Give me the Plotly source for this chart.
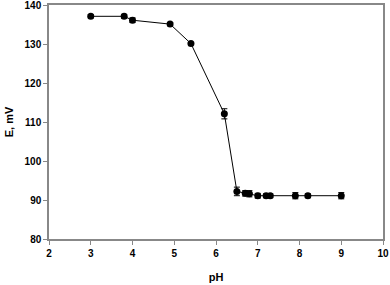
import plotly.graph_objects as go

ph = [3.0, 3.8, 4.0, 4.9, 5.4, 6.2, 6.5, 6.7, 6.8, 7.0, 7.2, 7.3, 7.9, 8.2, 9.0]
e_mv = [137.1, 137.1, 136.1, 135.1, 130.1, 112.1, 92.2, 91.7, 91.6, 91.1, 91.1, 91.1, 91.1, 91.1, 91.1]
err = [0.4, 0.5, 0.6, 0.4, 0.3, 1.3, 1.1, 0.7, 0.8, 0.6, 0.5, 0.5, 0.8, 0.5, 0.8]

x_ticks = [2, 3, 4, 5, 6, 7, 8, 9, 10]
y_ticks = [80, 90, 100, 110, 120, 130, 140]

FONT = "Arial, Liberation Sans, sans-serif"

fig = go.Figure()
fig.add_trace(go.Scatter(
    x=ph, y=e_mv, mode="lines+markers",
    line=dict(color="black", width=1),
    marker=dict(color="black", size=7),
    error_y=dict(type="data", array=err, color="black", thickness=1, width=3),
    showlegend=False,
))

axis_common = dict(
    showline=True, linecolor="#888888", linewidth=1.5, mirror=True,
    ticks="outside", tickcolor="#888888", ticklen=4, tickwidth=1,
    showgrid=False, zeroline=False, automargin=False,
    tickfont=dict(family=FONT, size=10, color="black"),
)

fig.update_xaxes(range=[2, 10], tickvals=x_ticks, ticktext=[f"<b>{v}</b>" for v in x_ticks],
                 ticklabeloverflow="allow",
                 title=dict(text="<b>pH</b>", font=dict(family=FONT, size=11, color="black"), standoff=16),
                 **axis_common)
fig.update_yaxes(range=[80, 140], tickvals=y_ticks, ticktext=[f"<b>{v}</b>" for v in y_ticks],
                 ticklabeloverflow="allow",
                 title=dict(text="<b>E, mV</b>", font=dict(family=FONT, size=11, color="black"), standoff=9),
                 **axis_common)

fig.update_layout(
    width=390, height=285,
    margin=dict(l=49, r=7, t=5, b=46, pad=0, autoexpand=False),
    plot_bgcolor="white", paper_bgcolor="white",
)

fig.write_html("out.html", config={"displayModeBar": False},
               post_script="document.body.style.margin='0';document.body.style.padding='0';")
